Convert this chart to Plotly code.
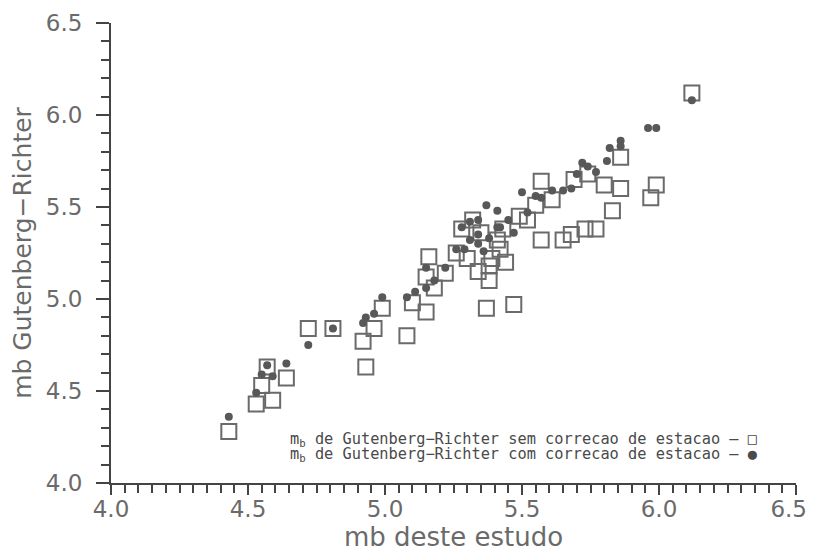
import plotly.graph_objects as go

# m_b Gutenberg-Richter without station correction (open squares)
sem_x = [4.43, 4.53, 4.59, 4.55, 4.57, 4.64, 4.72, 4.81, 4.92, 4.96, 4.99, 4.93,
         5.08, 5.10, 5.15, 5.18, 5.15, 5.16, 5.22, 5.26, 5.28, 5.30, 5.34, 5.38,
         5.37, 5.47, 5.32, 5.39, 5.42, 5.41, 5.43, 5.49, 5.52, 5.55, 5.57, 5.61,
         5.57, 5.65, 5.68, 5.73, 5.77, 5.69, 5.74, 5.80, 5.86, 5.83, 5.86, 5.97,
         5.99, 6.12, 5.35, 5.38, 5.44]
sem_y = [4.28, 4.43, 4.45, 4.53, 4.63, 4.57, 4.84, 4.84, 4.77, 4.84, 4.95, 4.63,
         4.80, 4.98, 4.93, 5.06, 5.12, 5.23, 5.14, 5.25, 5.38, 5.22, 5.15, 5.10,
         4.95, 4.97, 5.43, 5.22, 5.27, 5.32, 5.38, 5.45, 5.43, 5.51, 5.64, 5.54,
         5.32, 5.32, 5.35, 5.38, 5.38, 5.65, 5.68, 5.62, 5.60, 5.48, 5.77, 5.55,
         5.62, 6.12, 5.36, 5.18, 5.20]

# m_b Gutenberg-Richter with station correction (filled circles)
com_x = [4.43, 4.53, 4.55, 4.57, 4.59, 4.64, 4.72, 4.81, 4.92, 4.93, 4.96, 4.99,
         5.08, 5.11, 5.15, 5.18, 5.15, 5.22, 5.28, 5.31, 5.34, 5.37, 5.41, 5.45,
         5.41, 5.47, 5.34, 5.34, 5.38, 5.29, 5.26, 5.36, 5.50, 5.52, 5.55, 5.57,
         5.61, 5.65, 5.68, 5.70, 5.72, 5.74, 5.77, 5.81, 5.82, 5.86, 5.86, 5.96,
         5.99, 6.12, 5.42, 5.31]
com_y = [4.36, 4.49, 4.59, 4.64, 4.58, 4.65, 4.75, 4.84, 4.87, 4.90, 4.92, 5.01,
         5.01, 5.04, 5.06, 5.10, 5.17, 5.17, 5.39, 5.42, 5.43, 5.51, 5.48, 5.43,
         5.39, 5.36, 5.35, 5.30, 5.33, 5.27, 5.27, 5.26, 5.58, 5.47, 5.56, 5.55,
         5.59, 5.59, 5.60, 5.68, 5.74, 5.72, 5.69, 5.75, 5.82, 5.86, 5.83, 5.93,
         5.93, 6.08, 5.39, 5.32]

x_range = [4.0, 6.5]
y_range = [4.0, 6.5]
major_ticks = [4.0, 4.5, 5.0, 5.5, 6.0, 6.5]
y_labels = ["4.0", "4.5", "5.0", "5.5", "6.0", "6.5"]
x_labels = ["4.0", "4.5", "5.0", "5.5", "6.0", "6.5\u00a0\u00a0"]
x_title = "mb deste estudo"
y_title = "mb Gutenberg\u2212Richter"
legend_sem = "m<sub>b</sub> de Gutenberg\u2212Richter sem correcao de estacao \u2013 \u25a1"
legend_com = "m<sub>b</sub> de Gutenberg\u2212Richter com correcao de estacao \u2013 \u25cf"

axis_col = "#444444"
text_col = "#6a6a6a"

fig = go.Figure()
fig.add_trace(go.Scatter(
    x=sem_x, y=sem_y, mode="markers",
    marker=dict(symbol="square-open", size=15, color="#6a6a6a",
                line=dict(width=2, color="#6a6a6a")),
    showlegend=False, cliponaxis=False))
fig.add_trace(go.Scatter(
    x=com_x, y=com_y, mode="markers",
    marker=dict(symbol="circle", size=8, color="#585858"),
    showlegend=False, cliponaxis=False))

axis_common = dict(
    showgrid=False, zeroline=False, showline=True, linecolor=axis_col, linewidth=2,
    ticks="outside", tickwidth=2, tickcolor=axis_col,
    tickmode="array", tickvals=major_ticks,
    tickfont=dict(family="DejaVu Sans", size=23, color=text_col),
    ticklabeloverflow="allow",
    automargin=False,
)

fig.update_xaxes(range=x_range, ticklen=10, ticktext=x_labels,
                 minor=dict(tick0=4.0, dtick=0.05, ticks="outside", ticklen=8,
                            tickwidth=1.5, tickcolor=axis_col),
                 ticklabelstandoff=-6,
                 title=dict(text=x_title, standoff=4,
                            font=dict(family="DejaVu Sans", size=26, color=text_col)),
                 **axis_common)
fig.update_yaxes(range=y_range, ticklen=13, ticktext=y_labels,
                 minor=dict(tick0=4.0, dtick=0.1, ticks="outside", ticklen=8,
                            tickwidth=1.5, tickcolor=axis_col),
                 ticklabelstandoff=9,
                 title=dict(text=y_title, standoff=12,
                            font=dict(family="DejaVu Sans", size=25, color=text_col)),
                 **axis_common)

fig.add_annotation(x=0.259, y=0.094, xref="paper", yref="paper", text=legend_sem,
                   showarrow=False, xanchor="left", yanchor="middle",
                   font=dict(family="DejaVu Sans Mono", size=15.3, color="#4a4a4a"))
fig.add_annotation(x=0.259, y=0.061, xref="paper", yref="paper", text=legend_com,
                   showarrow=False, xanchor="left", yanchor="middle",
                   font=dict(family="DejaVu Sans Mono", size=15.3, color="#4a4a4a"))

# page body adds an 8 px offset; size the figure to the visible window
fig.update_layout(
    width=806, height=545,
    margin=dict(l=103, r=18, t=15, b=70),
    paper_bgcolor="white", plot_bgcolor="white",
)

fig.write_html("out.html")
